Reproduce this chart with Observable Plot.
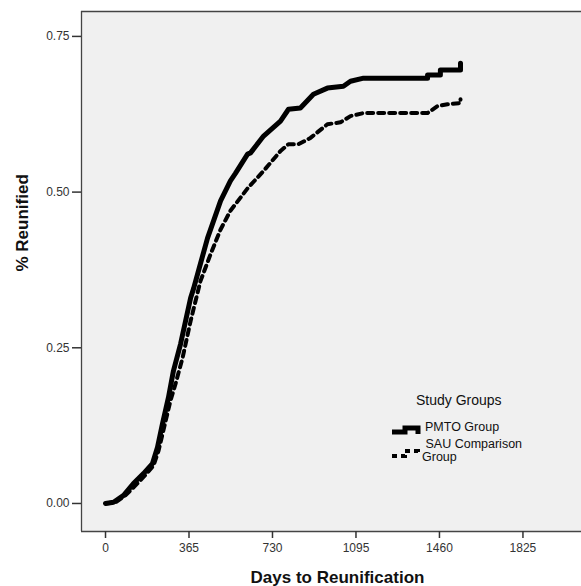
<!DOCTYPE html>
<html>
<head>
<meta charset="utf-8">
<script src="https://cdn.jsdelivr.net/npm/d3@7"></script>
<script src="https://cdn.jsdelivr.net/npm/@observablehq/plot@0.6"></script>
<style>
  html, body { margin: 0; padding: 0; background: #fff; }
  #wrap { position: relative; width: 581px; height: 586px; font-family: "Liberation Sans", Arial, sans-serif; }
  #legend { position: absolute; left: 388px; top: 392px; color: #111; }
  #legend .title { position: absolute; left: 28px; top: 0; font-size: 14px; white-space: nowrap; }
  #legend .item { position: absolute; font-size: 12.5px; line-height: 13px; white-space: nowrap; }
</style>
</head>
<body>
<div id="wrap"></div>
<script>
// Days to reunification (x) and cumulative proportion reunified (y)
const pmtoDays = [0, 35, 79, 122, 166, 205, 227, 249, 275, 297, 328, 350, 372, 385, 415, 446, 503, 546, 568, 621, 634, 691, 765, 800, 852, 909, 970, 1040, 1071, 1128, 1408, 1408, 1464, 1464, 1552, 1552];
const pmtoRate = [0, 0.002, 0.013, 0.032, 0.048, 0.064, 0.090, 0.128, 0.170, 0.213, 0.256, 0.293, 0.330, 0.345, 0.385, 0.426, 0.486, 0.518, 0.530, 0.561, 0.563, 0.590, 0.614, 0.633, 0.635, 0.657, 0.667, 0.670, 0.678, 0.683, 0.683, 0.688, 0.688, 0.696, 0.696, 0.707];

const sauDays = [0, 44, 87, 131, 175, 210, 232, 258, 284, 306, 337, 372, 415, 459, 503, 546, 621, 691, 765, 800, 844, 896, 970, 1027, 1071, 1128, 1408, 1451, 1495, 1552, 1552];
const sauRate = [0, 0.002, 0.013, 0.029, 0.046, 0.061, 0.085, 0.125, 0.165, 0.192, 0.234, 0.293, 0.357, 0.400, 0.440, 0.470, 0.506, 0.534, 0.566, 0.577, 0.577, 0.587, 0.609, 0.612, 0.622, 0.627, 0.627, 0.638, 0.641, 0.643, 0.649];

const xTicks = [0, 365, 730, 1095, 1460, 1825];
const yTicks = [0, 0.25, 0.50, 0.75];
const xDomain = [-105, 2081];
const yDomain = [-0.045, 0.79];

const pmto = pmtoDays.map((d, i) => ({days: d, rate: pmtoRate[i]}));
const sau = sauDays.map((d, i) => ({days: d, rate: sauRate[i]}));

const font = "Liberation Sans, Arial, sans-serif";

const chart = Plot.plot({
  width: 581,
  height: 586,
  marginLeft: 81,
  marginTop: 11,
  marginRight: 0,
  marginBottom: 55,
  style: { fontFamily: font, background: "#fff" },
  x: { domain: xDomain },
  y: { domain: yDomain },
  marks: [
    Plot.frame({ fill: "#f0f0f0", stroke: null }),
    Plot.ruleX([xDomain[0]], { stroke: "#444", strokeWidth: 1.3 }),
    Plot.ruleY([yDomain[0], yDomain[1]], { stroke: "#444", strokeWidth: 1.3 }),
    Plot.axisX({ ticks: xTicks, tickSize: 7, tickPadding: 5, fontSize: 12, tickFormat: d3.format("d"), label: null, stroke: "#333", color: "#333", strokeWidth: 1.5 }),
    Plot.axisY({ ticks: yTicks, tickSize: 9, tickPadding: 3, fontSize: 12, tickFormat: d3.format(".2f"), label: null, stroke: "#333", color: "#333", strokeWidth: 1.5 }),
    Plot.line(sau, { x: "days", y: "rate", stroke: "#000", strokeWidth: 4, strokeDasharray: "6,5", strokeLinejoin: "round" }),
    Plot.line(pmto, { x: "days", y: "rate", stroke: "#000", strokeWidth: 5, strokeLinejoin: "round", strokeLinecap: "round" }),
    Plot.text(["Days to Reunification"], { frameAnchor: "bottom", lineAnchor: "middle", dy: 46, dx: 6, fontSize: 17, fontWeight: "bold", fill: "#111" }),
    Plot.text(["% Reunified"], { frameAnchor: "left", lineAnchor: "middle", rotate: -90, dx: -59, fontSize: 17, fontWeight: "bold", fill: "#111" })
  ]
});

const wrap = document.getElementById("wrap");
wrap.appendChild(chart);

const legend = document.createElement("div");
legend.id = "legend";
legend.innerHTML = `
  <div class="title">Study Groups</div>
  <svg style="position:absolute;left:0;top:0;overflow:visible" width="40" height="80">
    <path d="M4,40 H17 V36 H30 V42" fill="none" stroke="#000" stroke-width="5"/>
    <path d="M4,64 H17 V59 H30 V64" fill="none" stroke="#000" stroke-width="4" stroke-dasharray="5,4"/>
  </svg>
  <div class="item" style="left:37px;top:29px">PMTO Group</div>
  <div class="item" style="left:34px;top:46px">&nbsp;SAU Comparison<br>Group</div>
`;
wrap.appendChild(legend);
</script>
</body>
</html>
